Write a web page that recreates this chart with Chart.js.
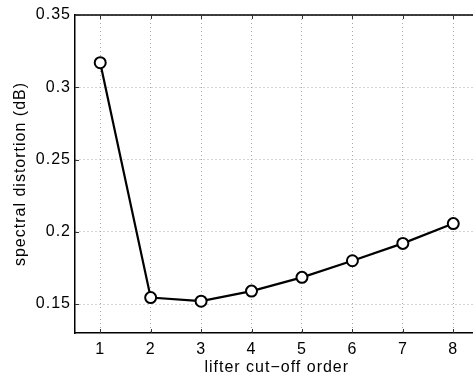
<!DOCTYPE html>
<html>
<head>
<meta charset="utf-8">
<script src="https://cdn.jsdelivr.net/npm/chart.js@4"></script>
<style>
  html, body { margin: 0; padding: 0; background: #fff; overflow: hidden; }
  #wrap { width: 486px; height: 374px; }
</style>
</head>
<body>
<div id="wrap"><canvas id="distChart" width="486" height="374"></canvas></div>
<script>
// spectral distortion against lifter cut-off order
var orders = [1, 2, 3, 4, 5, 6, 7, 8];
var distortion = [0.317, 0.1545, 0.152, 0.159, 0.1685, 0.180, 0.192, 0.2057];
var yTicks = [0.15, 0.2, 0.25, 0.3, 0.35];
var xTicks = [1, 2, 3, 4, 5, 6, 7, 8];

var points = orders.map(function (o, i) { return { x: o, y: distortion[i] }; });
var labelFont = { family: 'Liberation Sans', size: 16 };

// wider letter spacing, closer to the matlab helvetica look
var spacingPlugin = {
  id: 'spacing',
  beforeUpdate: function (chart) { chart.ctx.letterSpacing = '1px'; },
  beforeDraw: function (chart) { chart.ctx.letterSpacing = '1px'; }
};

// top spine and inward tick marks, matlab style
var framePlugin = {
  id: 'frame',
  afterDraw: function (chart) {
    var ctx = chart.ctx, a = chart.chartArea;
    var xs = chart.scales.x, ys = chart.scales.y;
    ctx.save();
    ctx.strokeStyle = '#000';
    ctx.lineWidth = 1.5;
    ctx.beginPath();
    ctx.moveTo(a.left, a.top);
    ctx.lineTo(chart.width, a.top);
    ctx.stroke();
    ctx.lineWidth = 1;
    ctx.strokeStyle = '#333';
    ctx.beginPath();
    xTicks.forEach(function (t) {
      var px = Math.round(xs.getPixelForValue(t)) + 0.5;
      ctx.moveTo(px, a.bottom); ctx.lineTo(px, a.bottom - 4);
      ctx.moveTo(px, a.top); ctx.lineTo(px, a.top + 4);
    });
    yTicks.forEach(function (t) {
      var py = Math.round(ys.getPixelForValue(t)) + 0.5;
      ctx.moveTo(a.left, py); ctx.lineTo(a.left + 4, py);
    });
    ctx.stroke();
    ctx.restore();
  }
};

var ctx = document.getElementById('distChart').getContext('2d');
var chart = new Chart(ctx, {
  type: 'line',
  data: {
    datasets: [{
      data: points,
      borderColor: '#000',
      borderWidth: 2.2,
      pointRadius: 5.5,
      pointBorderWidth: 2,
      pointBackgroundColor: '#fff',
      pointBorderColor: '#000',
      tension: 0,
      fill: false
    }]
  },
  plugins: [spacingPlugin, framePlugin],
  options: {
    responsive: false,
    animation: false,
    layout: { padding: { top: 15, right: 0, left: 0, bottom: 0 } },
    plugins: { legend: { display: false }, tooltip: { enabled: false } },
    scales: {
      x: {
        type: 'linear',
        min: 0.5,
        max: 8.5,
        afterBuildTicks: function (s) { s.ticks = xTicks.map(function (v) { return { value: v }; }); },
        afterFit: function (s) { s.height = 41; },
        ticks: {
          color: '#000',
          padding: 7,
          font: labelFont
        },
        grid: {
          color: '#a8a8a8',
          lineWidth: 1,
          drawTicks: false
        },
        border: { display: true, color: '#000', width: 1.5, dash: [1, 3] },
        title: {
          display: true,
          text: 'lifter cut\u2212off order',
          color: '#000',
          padding: { top: 0, bottom: -3 },
          font: labelFont
        }
      },
      y: {
        min: 0.13,
        max: 0.35,
        afterBuildTicks: function (s) { s.ticks = yTicks.map(function (v) { return { value: v }; }); },
        afterFit: function (s) { s.width = 75; },
        ticks: {
          color: '#000',
          padding: 4,
          font: labelFont,
          callback: function (v) { return String(+v.toFixed(2)); }
        },
        grid: {
          color: '#a8a8a8',
          lineWidth: 1,
          drawTicks: false
        },
        border: { display: true, color: '#000', width: 1.5, dash: [1, 3] },
        title: {
          display: true,
          text: 'spectral distortion (dB)',
          color: '#000',
          padding: { top: 11, bottom: 0 },
          font: labelFont
        }
      }
    }
  }
});
</script>
</body>
</html>
